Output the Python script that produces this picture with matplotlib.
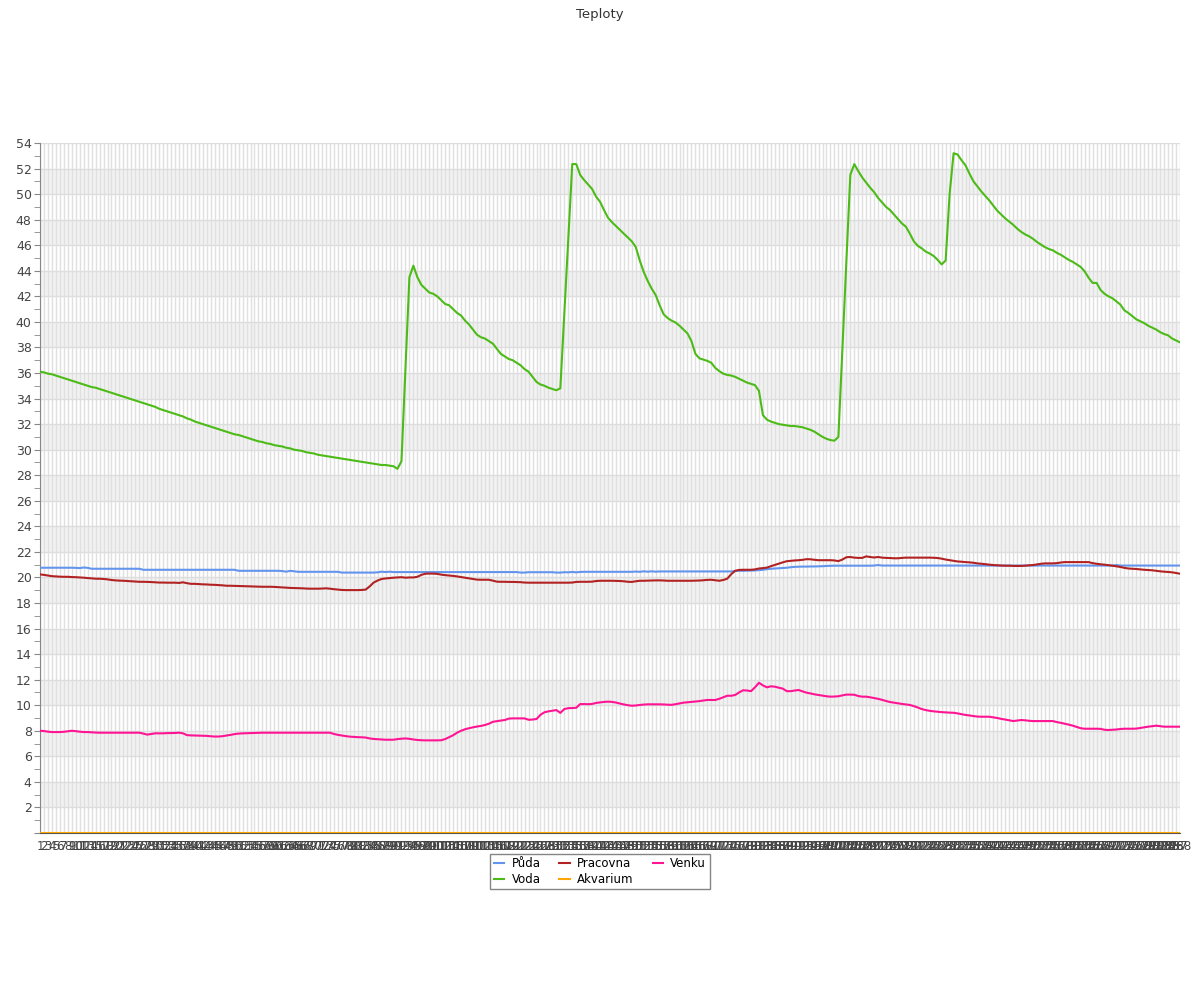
import numpy as np
import matplotlib.pyplot as plt
from matplotlib.ticker import MultipleLocator

# x categories: 288 samples (5 minute steps over a day)
labels = [str(i) for i in range(1, 289)]

# Voda (water)
voda = [
    36.1, 36.05, 35.95, 35.9, 35.8, 35.7, 35.6, 35.5, 35.4, 35.3,
    35.2, 35.1, 35.0, 34.9, 34.85, 34.75, 34.65, 34.55, 34.45, 34.35,
    34.25, 34.15, 34.05, 33.95, 33.85, 33.75, 33.65, 33.55, 33.45, 33.35,
    33.2, 33.1, 33.0, 32.9, 32.8, 32.7, 32.6, 32.45, 32.35, 32.2,
    32.1, 32.0, 31.9, 31.8, 31.7, 31.6, 31.5, 31.4, 31.3, 31.2,
    31.15, 31.05, 30.95, 30.85, 30.75, 30.65, 30.6, 30.5, 30.45, 30.35,
    30.3, 30.25, 30.15, 30.1, 30.0, 29.95, 29.9, 29.8, 29.75, 29.7,
    29.6, 29.55, 29.5, 29.45, 29.4, 29.35, 29.3, 29.25, 29.2, 29.15,
    29.1, 29.05, 29.0, 28.95, 28.9, 28.85, 28.8, 28.8, 28.75, 28.7,
    28.5, 29.1, 36.3, 43.5, 44.4,
    43.5, 42.9, 42.6, 42.3, 42.2, 42.0, 41.7, 41.4, 41.3, 41.0,
    40.7, 40.5, 40.1, 39.8, 39.4, 39.0, 38.8, 38.7, 38.5, 38.3,
    37.9, 37.5, 37.3, 37.1, 37.0, 36.8, 36.6, 36.3, 36.1, 35.7,
    35.3, 35.1, 35.0, 34.85, 34.75, 34.65, 34.8,
    40.6, 46.5, 52.35, 52.35,
    51.5, 51.1, 50.75, 50.4, 49.8, 49.4, 48.75, 48.15, 47.8, 47.5,
    47.2, 46.9, 46.6, 46.3, 45.85, 44.8, 43.9, 43.2, 42.6, 42.1,
    41.3, 40.6, 40.3, 40.1, 39.95, 39.7, 39.4, 39.1, 38.5, 37.5,
    37.15, 37.05, 36.95, 36.8, 36.4, 36.15, 35.95, 35.85, 35.8, 35.7,
    35.55, 35.4, 35.25, 35.15, 35.05, 34.6, 32.7, 32.35, 32.2, 32.1,
    32.0, 31.95, 31.9, 31.85, 31.85, 31.8, 31.75, 31.65, 31.55, 31.4,
    31.2, 31.0, 30.85, 30.75, 30.7, 31.0, 37.8, 44.6, 51.5, 52.35,
    51.8, 51.3, 50.9, 50.5, 50.15, 49.7, 49.35, 49.0, 48.75, 48.4,
    48.05, 47.7, 47.45, 46.9, 46.3, 45.95, 45.75, 45.5, 45.35, 45.15,
    44.85, 44.5, 44.8, 50.0, 53.2, 53.1, 52.65, 52.25, 51.6, 51.0,
    50.6, 50.2, 49.85, 49.5, 49.1, 48.7, 48.4, 48.1, 47.85, 47.6,
    47.3, 47.05, 46.85, 46.7, 46.5, 46.25, 46.05, 45.85, 45.7, 45.6,
    45.4, 45.25, 45.05, 44.85, 44.7, 44.5, 44.3, 43.95, 43.45, 43.05,
    43.05, 42.5, 42.2, 42.0, 41.85, 41.6, 41.35, 40.9, 40.7, 40.45,
    40.2, 40.05, 39.9, 39.7, 39.55, 39.4, 39.2, 39.05, 38.95, 38.7,
    38.55, 38.4,
]

# Puda (attic)
puda = (
    [20.76] * 9 + [20.75, 20.73, 20.78, 20.75] + [20.68] * 13 + [20.6] * 24
    + [20.52] * 11 + [20.5, 20.45, 20.52, 20.48] + [20.44] * 11 + [20.38] * 9
    + [20.4, 20.45, 20.42, 20.45, 20.42] + [20.42] * 31
    + [20.38, 20.38, 20.41] + [20.41] * 6
    + [20.38, 20.38, 20.41, 20.4, 20.43, 20.4, 20.43] + [20.44] * 13
    + [20.46, 20.44, 20.48, 20.45, 20.48, 20.45, 20.47] + [20.47] * 18
    + [20.5, 20.52, 20.52, 20.53, 20.54, 20.55, 20.57, 20.6, 20.65, 20.68,
       20.7, 20.72, 20.74, 20.76, 20.8, 20.83, 20.84]
    + [20.85, 20.85, 20.86, 20.86, 20.87, 20.88, 20.9, 20.91, 20.92, 20.92]
    + [20.92] * 8 + [20.93, 20.97, 20.93]
    + [20.93] * 58 + [20.97] + [20.93] * 16
)

# Pracovna (study)
pracovna = [
    20.24, 20.2, 20.15, 20.1, 20.08, 20.06, 20.05, 20.05, 20.03, 20.02,
    20.0, 19.98, 19.95, 19.93, 19.9, 19.9, 19.88, 19.85, 19.8, 19.77,
    19.75, 19.74, 19.72, 19.7, 19.68, 19.66, 19.66, 19.65, 19.64, 19.62,
    19.6, 19.6, 19.59, 19.59, 19.59, 19.57, 19.62, 19.55, 19.5, 19.5,
    19.48, 19.46, 19.45, 19.43, 19.42, 19.4, 19.38, 19.35, 19.35, 19.34,
    19.33, 19.32, 19.31, 19.3, 19.29, 19.28, 19.27, 19.27, 19.27, 19.26,
    19.24, 19.22, 19.2, 19.18, 19.17, 19.16, 19.15, 19.13, 19.12, 19.12,
    19.12, 19.13, 19.15, 19.12, 19.08, 19.05, 19.02, 19.01, 19.01, 19.01,
    19.01, 19.02, 19.05, 19.3, 19.6, 19.76, 19.88, 19.92, 19.95, 19.98,
    20.0, 20.02, 19.98, 20.0, 20.0, 20.05, 20.2, 20.29, 20.3, 20.3,
    20.28, 20.22, 20.18, 20.15, 20.12, 20.08, 20.03, 19.98, 19.93, 19.88,
    19.83, 19.82, 19.82, 19.82, 19.75, 19.67, 19.66, 19.66, 19.65, 19.65,
    19.64, 19.63, 19.6, 19.59, 19.59, 19.59, 19.59, 19.59, 19.59, 19.59,
    19.59, 19.59, 19.59, 19.59, 19.6, 19.65, 19.66, 19.66, 19.66, 19.67,
    19.72, 19.74, 19.74, 19.74, 19.74, 19.73, 19.72, 19.7, 19.66, 19.65,
    19.7, 19.74, 19.74, 19.75, 19.76, 19.77, 19.77, 19.76, 19.74, 19.74,
    19.74, 19.74, 19.74, 19.74, 19.74, 19.75, 19.76, 19.78, 19.81, 19.82,
    19.78, 19.74, 19.8, 19.9, 20.25, 20.52, 20.59, 20.6, 20.6, 20.6,
    20.63, 20.7, 20.73, 20.77, 20.88, 20.98, 21.08, 21.18, 21.27, 21.3,
    21.33, 21.35, 21.38, 21.43, 21.42, 21.38, 21.35, 21.35, 21.35, 21.35,
    21.33, 21.28, 21.4, 21.58, 21.6, 21.55, 21.53, 21.53, 21.65, 21.6,
    21.56, 21.6, 21.55, 21.53, 21.52, 21.5, 21.5, 21.53, 21.55, 21.55,
    21.55, 21.55, 21.55, 21.55, 21.55, 21.54, 21.52, 21.47, 21.4, 21.35,
    21.3, 21.25, 21.23, 21.2, 21.18, 21.15, 21.1, 21.07, 21.04, 21.0,
    20.97, 20.95, 20.93, 20.92, 20.92, 20.9, 20.9, 20.9, 20.92, 20.95,
    20.97, 21.02, 21.07, 21.1, 21.1, 21.1, 21.12, 21.17, 21.2, 21.2,
    21.2, 21.2, 21.2, 21.2, 21.2, 21.12, 21.07, 21.03, 21.0, 20.96,
    20.92, 20.87, 20.82, 20.75, 20.7, 20.68, 20.66, 20.63, 20.6, 20.58,
    20.56, 20.52, 20.48, 20.45, 20.43, 20.4, 20.35, 20.29,
]

# Akvarium (sensor reads 0 all day)
akvarium = [0.0] * 288

# Venku (outside)
venku = [
    8.0, 7.98, 7.93, 7.9, 7.9, 7.9, 7.92, 7.96, 8.0, 7.97,
    7.93, 7.9, 7.9, 7.88, 7.86, 7.85, 7.85, 7.85, 7.85, 7.85,
    7.85, 7.85, 7.85, 7.85, 7.85, 7.85, 7.78, 7.7, 7.75, 7.8,
    7.8, 7.8, 7.82, 7.82, 7.83, 7.85, 7.8, 7.66, 7.64, 7.63,
    7.62, 7.61, 7.6, 7.57, 7.55, 7.55, 7.58, 7.63, 7.68, 7.74,
    7.78, 7.8, 7.81, 7.82, 7.83, 7.84, 7.85, 7.85, 7.85, 7.85,
    7.85, 7.85, 7.85, 7.85, 7.85, 7.85, 7.85, 7.85, 7.85, 7.85,
    7.85, 7.85, 7.85, 7.85, 7.75, 7.68, 7.63, 7.58, 7.54, 7.52,
    7.5, 7.49, 7.47, 7.4, 7.36, 7.34, 7.32, 7.3, 7.3, 7.3,
    7.35, 7.38, 7.4, 7.37, 7.32, 7.28, 7.26, 7.25, 7.25, 7.25,
    7.25, 7.26, 7.35, 7.5, 7.65, 7.85, 8.0, 8.12, 8.2, 8.27,
    8.33, 8.38, 8.45, 8.55, 8.7, 8.75, 8.8, 8.84, 8.95, 8.97,
    8.97, 8.97, 8.97, 8.86, 8.88, 8.92, 9.25, 9.45, 9.52, 9.57,
    9.62, 9.4, 9.7, 9.77, 9.78, 9.8, 10.09, 10.09, 10.08, 10.1,
    10.18, 10.22, 10.26, 10.28, 10.26, 10.21, 10.13, 10.06, 10.0, 9.96,
    9.98, 10.02, 10.05, 10.07, 10.07, 10.07, 10.07, 10.06, 10.04, 10.03,
    10.08, 10.14, 10.2, 10.23, 10.26, 10.29, 10.32, 10.37, 10.41, 10.41,
    10.41, 10.5, 10.62, 10.74, 10.74, 10.8, 11.0, 11.17, 11.15, 11.1,
    11.4, 11.76, 11.55, 11.4, 11.48, 11.45, 11.37, 11.3, 11.1, 11.1,
    11.15, 11.19, 11.08, 10.98, 10.92, 10.85, 10.8, 10.75, 10.7, 10.67,
    10.68, 10.7, 10.77, 10.83, 10.83, 10.82, 10.72, 10.67, 10.67, 10.62,
    10.56, 10.5, 10.42, 10.33, 10.25, 10.2, 10.15, 10.1, 10.06, 10.02,
    9.93, 9.82, 9.7, 9.62, 9.56, 9.52, 9.49, 9.46, 9.44, 9.42,
    9.41, 9.36, 9.3, 9.24, 9.2, 9.15, 9.11, 9.1, 9.1, 9.1,
    9.05, 9.0, 8.93, 8.88, 8.82, 8.76, 8.8, 8.84, 8.82, 8.78,
    8.76, 8.76, 8.76, 8.76, 8.76, 8.76, 8.68, 8.62, 8.55, 8.48,
    8.4, 8.3, 8.2, 8.16, 8.16, 8.16, 8.16, 8.15, 8.08, 8.06,
    8.08, 8.1, 8.14, 8.16, 8.16, 8.16, 8.17, 8.22, 8.27, 8.32,
    8.36, 8.4, 8.36, 8.32, 8.32, 8.32, 8.32, 8.32,
]

series = [
    ("Půda", puda, "#6495ED"),
    ("Voda", voda, "#4CBB17"),
    ("Pracovna", pracovna, "#B22222"),
    ("Akvarium", akvarium, "#FFA500"),
    ("Venku", venku, "#FF1493"),
]

x = np.arange(1, len(labels) + 1)

fig = plt.figure(figsize=(12, 10), dpi=100)
ax = fig.add_axes([40 / 1200, 1 - 833 / 1000, 1140 / 1200, 690 / 1000])

# alternating grey bands
for lo in range(2, 54, 4):
    ax.axhspan(lo, lo + 2, color="#f2f2f2", zorder=0, lw=0)

for name, vals, col in series:
    assert len(vals) == len(x), name
    ax.plot(x, vals, color=col, lw=1.5, label=name, zorder=3)

ax.set_xlim(1, len(labels))
ax.set_ylim(0, 54)

ax.set_xticks(x)
ax.set_xticklabels(labels, fontsize=8.5, color="#444")
ax.tick_params(axis="x", length=0, pad=5)

ax.yaxis.set_major_locator(MultipleLocator(2))
ax.yaxis.set_minor_locator(MultipleLocator(1))
yt = np.arange(0, 56, 2)
ax.set_yticks(yt)
ax.set_yticklabels(["" if v == 0 else str(v) for v in yt], fontsize=9, color="#444")
ax.tick_params(axis="y", which="both", length=4, color="#888", pad=2)

ax.grid(True, axis="x", color="#e0e0e0", lw=1, zorder=1)
ax.grid(True, axis="y", which="major", color="#dddddd", lw=1, zorder=1)
ax.set_axisbelow(True)

for side in ("top", "right"):
    ax.spines[side].set_visible(False)
ax.spines["left"].set_color("#888")
ax.spines["bottom"].set_color("#555")

fig.suptitle("Teploty", y=0.992, fontsize=9.5, color="#333")

leg = fig.legend(loc="upper center", bbox_to_anchor=(0.5, 0.152), ncol=3,
                 fontsize=8.5, frameon=True, fancybox=False, handlelength=0.9,
                 handletextpad=0.6, columnspacing=1.6, borderpad=0.3,
                 labelspacing=0.2)
leg.get_frame().set_edgecolor("#666")
leg.get_frame().set_linewidth(1)

fig.savefig("out.png", dpi=100)
